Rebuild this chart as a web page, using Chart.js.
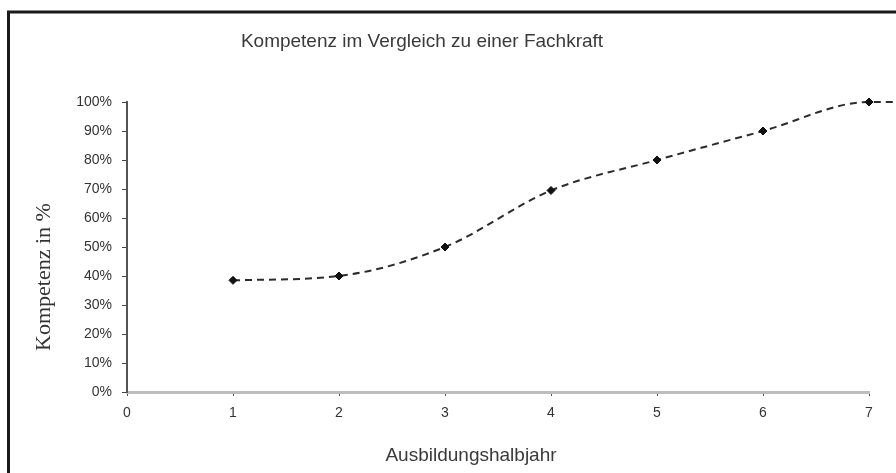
<!DOCTYPE html>
<html>
<head>
<meta charset="utf-8">
<script src="https://cdn.jsdelivr.net/npm/chart.js@4"></script>
<style>
  html, body { margin: 0; padding: 0; background: #fff; }
  #wrap { width: 896px; height: 473px; position: relative; }
</style>
</head>
<body>
<div id="wrap"><canvas id="chart"></canvas></div>
<script>
// ---- Data ----
const halbjahre = [1, 2, 3, 4, 5, 6, 7, 8];
const kompetenz = [38.5, 40, 50, 69.5, 80, 90, 100, 100];
const xTicks = [0, 1, 2, 3, 4, 5, 6, 7];
const yTicks = [0, 10, 20, 30, 40, 50, 60, 70, 80, 90, 100];

const titleText = 'Kompetenz im Vergleich zu einer Fachkraft';
const xLabel = 'Ausbildungshalbjahr';
const yLabel = 'Kompetenz in %';

// frame + free-standing labels, like the old Excel export
const frameAndLabels = {
    id: 'frameAndLabels',
    afterDraw(chart) {
        const ctx = chart.ctx;
        const area = chart.chartArea;
        ctx.save();

        ctx.strokeStyle = '#1a1a1a';
        ctx.lineWidth = 3;
        ctx.beginPath();
        ctx.moveTo(8.5, chart.height + 5);
        ctx.lineTo(8.5, 12);
        ctx.lineTo(chart.width + 5, 12);
        ctx.stroke();

        ctx.fillStyle = '#3a3a3a';
        ctx.textAlign = 'center';
        ctx.textBaseline = 'middle';
        ctx.font = '19px "Liberation Sans", Arial, sans-serif';
        ctx.fillText(titleText, area.left + 295, 42);

        ctx.fillText(xLabel, area.left + 344, area.bottom + 64);

        ctx.fillStyle = '#333';
        ctx.translate(44, area.top + 175);
        ctx.rotate(-Math.PI / 2);
        ctx.font = '22px "Liberation Serif", "Times New Roman", serif';
        ctx.fillText(yLabel, 0, 0);
        ctx.restore();
    }
};

new Chart(document.getElementById('chart'), {
    type: 'line',
    data: {
        datasets: [{
            data: halbjahre.map((h, i) => ({ x: h, y: kompetenz[i] })),
            borderColor: '#2b2b2b',
            borderWidth: 2,
            borderDash: [7, 5],
            cubicInterpolationMode: 'monotone',
            pointStyle: 'rectRot',
            pointRadius: 4,
            pointBackgroundColor: '#111',
            pointBorderColor: '#111',
            pointBorderWidth: 1,
            fill: false,
            clip: false
        }]
    },
    options: {
        responsive: true,
        maintainAspectRatio: false,
        animation: false,
        layout: { padding: { left: 0, top: 102, right: 27, bottom: 0 } },
        plugins: {
            legend: { display: false },
            title: { display: false },
            tooltip: { enabled: false }
        },
        scales: {
            x: {
                type: 'linear',
                // range set after data limits so the point past 7 is still drawn
                afterDataLimits: (scale) => { scale.min = 0; scale.max = 7; },
                afterFit: (scale) => { scale.height = 81; },
                afterBuildTicks: (scale) => { scale.ticks = xTicks.map(v => ({ value: v })); },
                grid: { drawOnChartArea: false, drawTicks: true, tickLength: 4, color: '#555', lineWidth: 1 },
                border: { color: '#bdbdbd', width: 3 },
                ticks: {
                    padding: 9,
                    color: '#333',
                    font: { family: '"Liberation Sans", Arial, sans-serif', size: 14 }
                }
            },
            y: {
                min: 0,
                max: 100,
                afterFit: (scale) => { scale.width = 127; },
                afterBuildTicks: (scale) => { scale.ticks = yTicks.map(v => ({ value: v })); },
                grid: { drawOnChartArea: false, drawTicks: true, tickLength: 5, color: '#444', lineWidth: 1 },
                border: { color: '#555', width: 2 },
                ticks: {
                    padding: 10,
                    color: '#333',
                    font: { family: '"Liberation Sans", Arial, sans-serif', size: 14 },
                    callback: v => `${v}%`
                }
            }
        }
    },
    plugins: [frameAndLabels]
});
</script>
</body>
</html>
